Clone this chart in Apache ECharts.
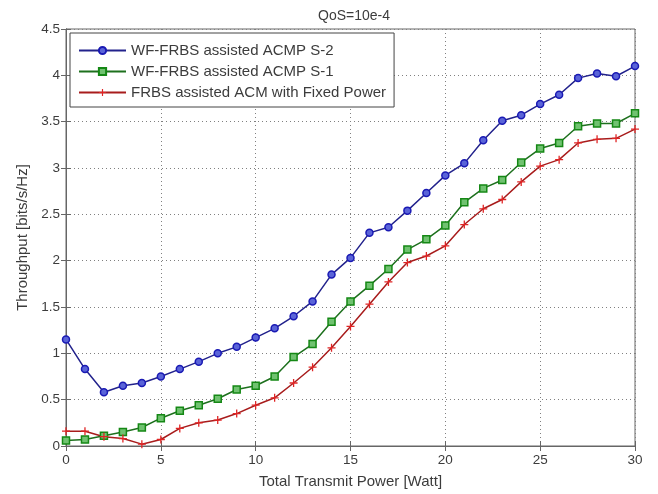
<!DOCTYPE html>
<html>
<head>
<meta charset="utf-8">
<script src="https://cdn.jsdelivr.net/npm/echarts@6/dist/echarts.min.js"></script>
<style>
  html, body { margin: 0; padding: 0; background: #fff; }
  #chart { width: 658px; height: 494px; }
</style>
</head>
<body>
<div id="chart"></div>
<script>
// Transmit power axis (Watt)
var transmitPower = [0, 1, 2, 3, 4, 5, 6, 7, 8, 9, 10, 11, 12, 13, 14, 15,
                     16, 17, 18, 19, 20, 21, 22, 23, 24, 25, 26, 27, 28, 29, 30];

// Throughput [bits/s/Hz] for each scheme
var wfS2 = [1.15, 0.83, 0.58, 0.65, 0.68, 0.75, 0.83, 0.91, 1.00, 1.07, 1.17,
            1.27, 1.40, 1.56, 1.85, 2.03, 2.30, 2.36, 2.54, 2.73, 2.92,
            3.05, 3.30, 3.51, 3.57, 3.69, 3.79, 3.97, 4.02, 3.99, 4.10];
var wfS1 = [0.06, 0.07, 0.11, 0.15, 0.20, 0.30, 0.38, 0.44, 0.51, 0.61, 0.65,
            0.75, 0.96, 1.10, 1.34, 1.56, 1.73, 1.91, 2.12, 2.23, 2.38,
            2.63, 2.78, 2.87, 3.06, 3.21, 3.27, 3.45, 3.48, 3.48, 3.59];
var fixedPower = [0.16, 0.16, 0.10, 0.08, 0.02, 0.07, 0.19, 0.25, 0.28, 0.35, 0.44,
                  0.52, 0.68, 0.85, 1.06, 1.29, 1.53, 1.77, 1.98, 2.05, 2.16,
                  2.39, 2.56, 2.66, 2.85, 3.02, 3.09, 3.27, 3.31, 3.32, 3.42];

var seriesNames = ['WF-FRBS assisted ACMP S-2', 'WF-FRBS assisted ACMP S-1',
                   'FRBS assisted ACM with Fixed Power'];
var titleText = 'QoS=10e-4';
var xAxisName = 'Total Transmit Power [Watt]';
var yAxisName = 'Throughput [bits/s/Hz]';

function pairs(values) {
  return transmitPower.map(function (x, i) { return [x, values[i]]; });
}

var plusPath = 'path://M4.2,0H5.8V4.2H10V5.8H5.8V10H4.2V5.8H0V4.2H4.2Z';
var textColor = '#3c3c3c';
var frameColor = '#666666';
var gridLine = { show: true, lineStyle: { type: [1, 3], color: '#808080', width: 1 } };

var chart = echarts.init(document.getElementById('chart'), null, { renderer: 'canvas' });
chart.setOption({
  backgroundColor: '#ffffff',
  animation: false,
  title: {
    text: titleText,
    left: 349, top: 4, textAlign: 'center',
    textStyle: { fontFamily: 'Liberation Sans', fontSize: 14, fontWeight: 'normal', color: textColor }
  },
  grid: { left: 66, right: 23, top: 29, bottom: 43, show: true, borderColor: frameColor, borderWidth: 1 },
  legend: {
    orient: 'vertical',
    left: 70, top: 33,
    padding: [10, 8, 7, 8],
    itemGap: 6,
    itemWidth: 47, itemHeight: 9,
    backgroundColor: '#ffffff',
    borderColor: '#444444', borderWidth: 1,
    textStyle: { fontFamily: 'Liberation Sans', fontSize: 15, color: textColor, lineHeight: 15 },
    data: seriesNames
  },
  xAxis: [{
    type: 'value', min: 0, max: 30, interval: 5,
    name: xAxisName, nameLocation: 'middle', nameGap: 28,
    nameTextStyle: { fontFamily: 'Liberation Sans', fontSize: 15, color: textColor },
    axisLine: { show: true, onZero: false, lineStyle: { color: frameColor } },
    axisTick: { show: true, inside: true, length: 5, lineStyle: { color: frameColor } },
    axisLabel: { fontFamily: 'Liberation Sans', fontSize: 13.5, color: textColor, margin: 7 },
    splitLine: gridLine
  }, {
    type: 'value', min: 0, max: 30, interval: 5, position: 'top',
    axisLine: { show: true, lineStyle: { color: frameColor } },
    axisTick: { show: true, inside: true, length: 5, lineStyle: { color: frameColor } },
    axisLabel: { show: false }, splitLine: { show: false }
  }],
  yAxis: [{
    type: 'value', min: 0, max: 4.5, interval: 0.5,
    name: yAxisName, nameLocation: 'middle', nameGap: 36,
    nameTextStyle: { fontFamily: 'Liberation Sans', fontSize: 15, color: textColor },
    axisLine: { show: true, onZero: false, lineStyle: { color: frameColor } },
    axisTick: { show: true, inside: true, length: 5, lineStyle: { color: frameColor } },
    axisLabel: { fontFamily: 'Liberation Sans', fontSize: 13.5, color: textColor, margin: 6 },
    splitLine: gridLine
  }, {
    type: 'value', min: 0, max: 4.5, interval: 0.5, position: 'right',
    axisLine: { show: true, lineStyle: { color: frameColor } },
    axisTick: { show: true, inside: true, length: 5, lineStyle: { color: frameColor } },
    axisLabel: { show: false }, splitLine: { show: false }
  }],
  series: [{
    name: seriesNames[0], type: 'line', data: pairs(wfS2),
    symbol: 'circle', symbolSize: 7,
    lineStyle: { color: '#22228c', width: 1.5 },
    itemStyle: { color: '#5a64d8', borderColor: '#1a1ab4', borderWidth: 1.5 },
    z: 3
  }, {
    name: seriesNames[1], type: 'line', data: pairs(wfS1),
    symbol: 'rect', symbolSize: 7,
    lineStyle: { color: '#1d701d', width: 1.5 },
    itemStyle: { color: '#70c270', borderColor: '#158815', borderWidth: 1.5 },
    z: 3
  }, {
    name: seriesNames[2], type: 'line', data: pairs(fixedPower),
    symbol: plusPath, symbolSize: 8,
    lineStyle: { color: '#a81c1c', width: 1.5 },
    itemStyle: { color: '#e02424', borderWidth: 0 },
    z: 3
  }]
});
</script>
</body>
</html>
